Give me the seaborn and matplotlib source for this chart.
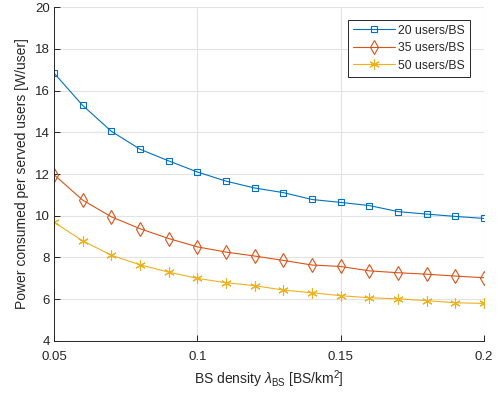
import matplotlib
matplotlib.use("Agg")
import matplotlib.pyplot as plt
import seaborn as sns
import pandas as pd

density = [0.05, 0.06, 0.07, 0.08, 0.09, 0.10, 0.11, 0.12, 0.13, 0.14, 0.15, 0.16, 0.17, 0.18, 0.19, 0.20]
users20 = [16.84, 15.29, 14.05, 13.19, 12.63, 12.10, 11.66, 11.33, 11.11, 10.78, 10.64, 10.49, 10.20, 10.08, 9.97, 9.87]
users35 = [11.97, 10.75, 9.95, 9.38, 8.91, 8.51, 8.26, 8.07, 7.86, 7.64, 7.57, 7.36, 7.27, 7.20, 7.11, 7.03]
users50 = [9.69, 8.80, 8.11, 7.65, 7.30, 7.00, 6.79, 6.65, 6.44, 6.31, 6.17, 6.07, 6.02, 5.93, 5.83, 5.80]
labels = ["20 users/BS", "35 users/BS", "50 users/BS"]
xticks = [0.05, 0.1, 0.15, 0.2]
xticklabels = ["0.05", "0.1", "0.15", "0.2"]
yticks = [4, 6, 8, 10, 12, 14, 16, 18, 20]

sns.set_style("white")
plt.rcParams['font.family'] = ['Liberation Sans', 'DejaVu Sans']
plt.rcParams['mathtext.fontset'] = 'custom'
plt.rcParams['mathtext.rm'] = 'Liberation Sans'
plt.rcParams['mathtext.it'] = 'Liberation Sans:italic'

fig = plt.figure(figsize=(5.0, 3.96), dpi=100)
ax = fig.add_axes([0.108, 0.139, 0.860, 0.843])

colors = ["#0072BD", "#D95319", "#EDB120"]
markers = ["s", "d", (6, 2, 0)]
msizes = [5, 7.5, 7.5]
for vals, lab, c, m, ms in zip([users20, users35, users50], labels, colors, markers, msizes):
    df = pd.DataFrame({"x": density, "y": vals})
    sns.lineplot(data=df, x="x", y="y", ax=ax, color=c, linewidth=0.8, marker=m,
                 markersize=ms, label=lab, markerfacecolor="none", markeredgecolor=c,
                 markeredgewidth=0.8)

ax.set_xlim(0.05, 0.2)
ax.set_ylim(4, 20)
ax.set_xticks(xticks)
ax.set_xticklabels(xticklabels)
ax.set_yticks(yticks)
ax.grid(True, color="#E3E3E3", linewidth=0.8)
ax.set_axisbelow(True)
for s in ["top", "right"]:
    ax.spines[s].set_visible(False)
for s in ["left", "bottom"]:
    ax.spines[s].set_color("#262626")
    ax.spines[s].set_linewidth(0.7)
ax.tick_params(direction="in", length=4, width=0.7, colors="#262626", labelsize=9.5,
               left=True, bottom=True)
ax.tick_params(axis="x", pad=7)
ax.tick_params(axis="y", pad=3)
ax.set_xlabel(r"BS density $\lambda_{\mathrm{BS}}$ [BS/km$^2$]", fontsize=10, color="#262626",
              labelpad=4)
ax.set_ylabel("Power consumed per served users [W/user]", fontsize=10, color="#262626")

leg = ax.legend(loc="upper right", bbox_to_anchor=(0.967, 0.962), fontsize=8.8, frameon=True,
                fancybox=False, edgecolor="#262626", framealpha=1, borderpad=0.4,
                labelspacing=0.45, handlelength=3.4, handletextpad=0.3, borderaxespad=0.0)
leg.get_frame().set_linewidth(0.7)

fig.savefig("out.png", dpi=100)
